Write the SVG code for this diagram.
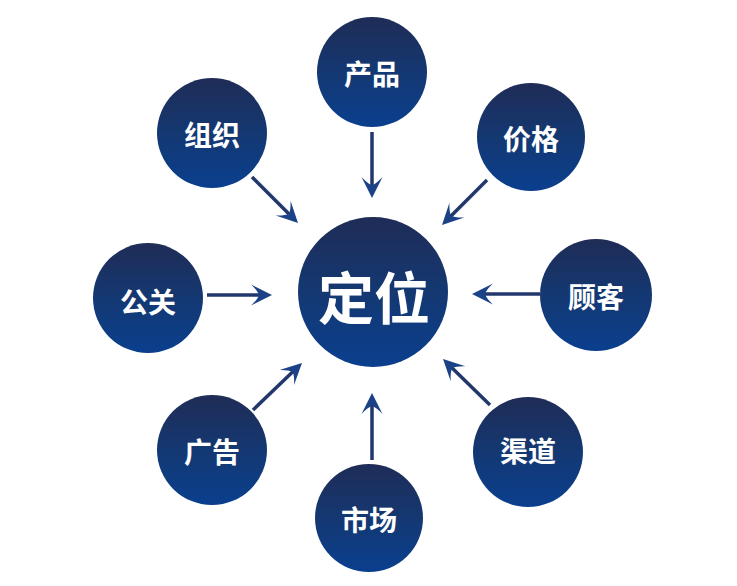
<svg xmlns="http://www.w3.org/2000/svg" width="737" height="586" viewBox="0 0 737 586">
<defs>
<linearGradient id="g" x1="0" y1="0" x2="0" y2="1">
<stop offset="0" stop-color="#1f2c56"/>
<stop offset="0.5" stop-color="#143872"/>
<stop offset="1" stop-color="#0a3f8e"/>
</linearGradient>
<marker id="ah" viewBox="-22 -12 23 24" markerWidth="23" markerHeight="24" refX="-12" refY="0" orient="auto" markerUnits="userSpaceOnUse">
<path d="M0,0 L-21,-10.5 Q-14,-4 -13,0 Q-14,4 -21,10.5 Z" fill="#1b4186"/>
</marker>
</defs>
<style>
.n{fill:url(#g)}
.t{fill:#ffffff;font-family:"Noto Sans CJK SC","Noto Sans",sans-serif;font-weight:bold;font-size:28px;text-anchor:middle;dominant-baseline:central}
.c{font-size:56px}
.a{stroke:#22386c;stroke-width:3.5;fill:none;marker-end:url(#ah)}
</style>
<rect width="737" height="586" fill="#ffffff"/>
<g id="connectors">
<line class="a" x1="372" y1="132" x2="372" y2="186"/>
<line class="a" x1="252" y1="177" x2="289.5" y2="214.5"/>
<line class="a" x1="487" y1="180" x2="450.5" y2="216.5"/>
<line class="a" x1="207" y1="295" x2="260" y2="295"/>
<line class="a" x1="540" y1="294" x2="484" y2="294"/>
<line class="a" x1="253" y1="410" x2="293.3" y2="371.3"/>
<line class="a" x1="490" y1="405" x2="451.6" y2="367.4"/>
<line class="a" x1="372" y1="460" x2="372" y2="405"/>
</g>
<g id="center"><circle class="n" cx="373" cy="292" r="75"/><text class="t c" x="374" y="294">定位</text></g>
<g id="chanpin"><circle class="n" cx="372" cy="72" r="55"/><text class="t" x="372" y="73">产品</text></g>
<g id="zuzhi"><circle class="n" cx="212" cy="133" r="55"/><text class="t" x="212" y="134">组织</text></g>
<g id="jiage"><circle class="n" cx="531" cy="137" r="54"/><text class="t" x="531" y="138">价格</text></g>
<g id="gongguan"><circle class="n" cx="148" cy="298" r="55"/><text class="t" x="148" y="301">公关</text></g>
<g id="guke"><circle class="n" cx="596" cy="295" r="56"/><text class="t" x="596" y="296">顾客</text></g>
<g id="guanggao"><circle class="n" cx="212" cy="450" r="55"/><text class="t" x="212" y="451">广告</text></g>
<g id="qudao"><circle class="n" cx="528" cy="452" r="55"/><text class="t" x="528" y="450">渠道</text></g>
<g id="shichang"><circle class="n" cx="369" cy="518" r="54"/><text class="t" x="369" y="519">市场</text></g>
</svg>
